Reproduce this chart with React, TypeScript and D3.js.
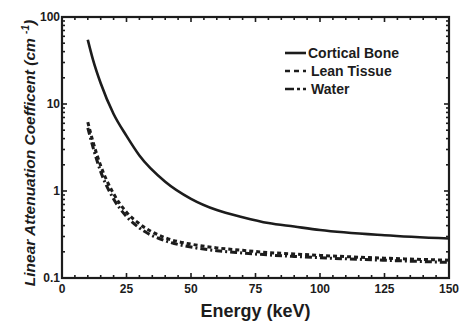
import React, { useRef, useEffect } from "react";
import * as d3 from "d3";

// energies in keV
const energy = [10, 12, 15, 20, 25, 30, 40, 50, 60, 70, 80, 90, 100, 125, 150];
// linear attenuation coefficients (cm^-1)
const corticalBone = [54.7, 32.4, 17.3, 7.68, 4.3, 2.56, 1.28, 0.814, 0.604, 0.5, 0.428, 0.39, 0.356, 0.31, 0.284];
const leanTissue = [6.2, 3.7, 1.95, 0.93, 0.57, 0.42, 0.29, 0.245, 0.222, 0.208, 0.196, 0.189, 0.182, 0.169, 0.16];
const water = [5.33, 3.2, 1.67, 0.81, 0.51, 0.376, 0.268, 0.227, 0.206, 0.194, 0.184, 0.177, 0.171, 0.16, 0.151];

const xTicks = [0, 25, 50, 75, 100, 125, 150];
const yTicks = [0.1, 1, 10, 100];
const seriesNames = ["Cortical Bone", "Lean Tissue", "Water"];

const App = () => {
    const ref = useRef<SVGSVGElement>(null);

    useEffect(() => {
        const svgWidth = 467;
        const svgHeight = 328;
        const margin = { top: 17, right: 18, bottom: 50, left: 62 };
        const ink = "#1c1c1c";
        const font = "'Liberation Sans', Arial, sans-serif";

        const svg = d3.select(ref.current)
            .attr("width", svgWidth)
            .attr("height", svgHeight);
        svg.selectAll("*").remove();

        const x0 = margin.left, x1 = svgWidth - margin.right;
        const y0 = svgHeight - margin.bottom, y1 = margin.top;

        const xScale = d3.scaleLinear().domain([0, 150]).range([x0, x1]);
        const yScale = d3.scaleLog().domain([0.1, 100]).range([y0, y1]);

        // minor ticks
        const xMinor = d3.range(0, 151, 5);
        const yMinor: number[] = [];
        [0.1, 1, 10].forEach(d => { for (let k = 1; k <= 9; k++) yMinor.push(d * k); });

        const ticks = svg.append("g").attr("stroke", ink);

        // bottom + top ticks (inward)
        xMinor.forEach(v => {
            const len = v % 25 === 0 ? 5 : 3;
            const xp = xScale(v);
            ticks.append("line").attr("x1", xp).attr("x2", xp).attr("y1", y0).attr("y2", y0 - len).attr("stroke-width", 1.6);
            ticks.append("line").attr("x1", xp).attr("x2", xp).attr("y1", y1).attr("y2", y1 + len).attr("stroke-width", 1.6);
        });
        // left + right ticks
        yMinor.forEach(v => {
            const len = yTicks.includes(v) ? 5 : 3;
            const yp = yScale(v);
            ticks.append("line").attr("x1", x0).attr("x2", x0 + len).attr("y1", yp).attr("y2", yp).attr("stroke-width", 1.6);
            ticks.append("line").attr("x1", x1).attr("x2", x1 - len).attr("y1", yp).attr("y2", yp).attr("stroke-width", 1.6);
        });

        // frame
        svg.append("rect")
            .attr("x", x0).attr("y", y1)
            .attr("width", x1 - x0).attr("height", y0 - y1)
            .attr("fill", "none").attr("stroke", ink).attr("stroke-width", 2.2);

        // tick labels
        svg.append("g").selectAll("text").data(xTicks).join("text")
            .attr("x", d => xScale(d)).attr("y", y0 + 15)
            .attr("text-anchor", "middle")
            .style("font-family", font).style("font-weight", "bold").style("font-size", "12px")
            .style("fill", ink)
            .text(d => d);

        svg.append("g").selectAll("text").data(yTicks).join("text")
            .attr("x", x0 - 2).attr("y", d => yScale(d) + 4)
            .attr("text-anchor", "end")
            .style("font-family", font).style("font-weight", "bold").style("font-size", "12px")
            .style("fill", ink)
            .text(d => d);

        // axis titles
        svg.append("text")
            .attr("x", (x0 + x1) / 2).attr("y", svgHeight - 11)
            .attr("text-anchor", "middle")
            .style("font-family", font).style("font-weight", "bold").style("font-size", "18px")
            .style("fill", ink)
            .text("Energy (keV)");

        const yTitle = svg.append("text")
            .attr("transform", `translate(35,${153}) rotate(-90)`)
            .attr("text-anchor", "middle")
            .style("font-family", font).style("font-weight", "bold").style("font-style", "italic")
            .style("font-size", "15.5px")
            .style("fill", ink);
        yTitle.append("tspan").text("Linear Attenuation Coefficent (cm ");
        yTitle.append("tspan").attr("dy", -6).style("font-size", "10px").text("-1");
        yTitle.append("tspan").attr("dy", 6).text(")");

        // curves
        const line = d3.line<number>()
            .x((d, i) => xScale(energy[i]))
            .y(d => yScale(d))
            .curve(d3.curveMonotoneX);

        const styles = [
            { data: corticalBone, dash: null, width: 2.6 },
            { data: leanTissue, dash: "4 3", width: 3 },
            { data: water, dash: "7 3 2 3", width: 3 },
        ];

        styles.forEach(s => {
            svg.append("path")
                .datum(s.data)
                .attr("fill", "none")
                .attr("stroke", ink)
                .attr("stroke-width", s.width)
                .attr("stroke-dasharray", s.dash)
                .attr("d", line);
        });

        // legend
        const legend = svg.append("g");
        seriesNames.forEach((name, i) => {
            const ly = 53 + i * 18;
            legend.append("line")
                .attr("x1", 285).attr("x2", 306)
                .attr("y1", ly).attr("y2", ly)
                .attr("stroke", ink).attr("stroke-width", 2.6)
                .attr("stroke-dasharray", i === 0 ? null : i === 1 ? "5 4" : "9 3 3 3");
            legend.append("text")
                .attr("x", i === 0 ? 308 : 311).attr("y", ly + 5)
                .style("font-family", font).style("font-weight", "bold").style("font-size", "14px")
                .style("fill", ink)
                .text(name);
        });
    }, []);

    return (
        <div style={{ position: "absolute", left: 0, top: 0 }}>
            <svg ref={ref}></svg>
        </div>
    );
};

export default App;
